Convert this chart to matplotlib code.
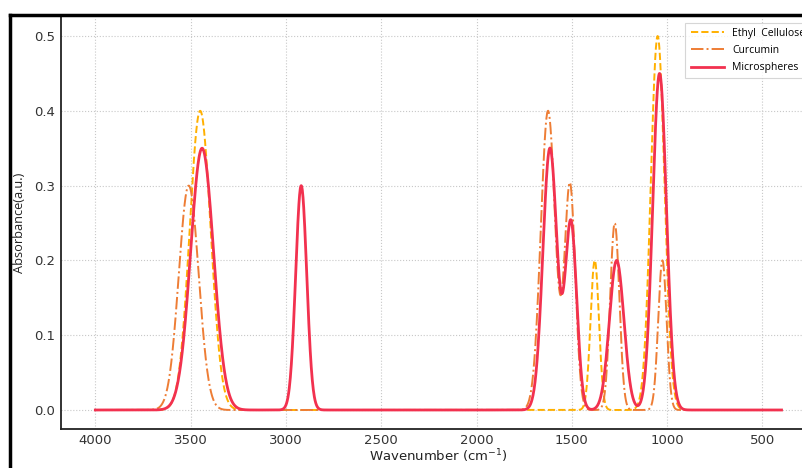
import matplotlib
matplotlib.use("Agg")
import matplotlib.pyplot as plt
from matplotlib.lines import Line2D
import numpy as np

# peak tables (centre cm-1, height, width)
ec_centers = [3450, 1380, 1050]
ec_heights = [0.40, 0.20, 0.50]
ec_widths = [55, 22, 36]

cur_centers = [3510, 1625, 1510, 1275, 1025]
cur_heights = [0.30, 0.40, 0.30, 0.25, 0.20]
cur_widths = [52, 38, 28, 24, 22]

mic_centers = [3440, 2920, 1615, 1505, 1265, 1040]
mic_heights = [0.35, 0.30, 0.35, 0.25, 0.20, 0.45]
mic_widths = [60, 29, 37, 30, 38, 36]

labels = ["Ethyl  Cellulose", "Curcumin", "Microspheres"]
colors = ["#FFB000", "#EE7D35", "#F2314F"]

wn = np.linspace(4000, 400, 2000)


def spectrum(centers, heights, widths):
    y = np.zeros_like(wn)
    for c, h, w in zip(centers, heights, widths):
        y += h * np.exp(-(wn - c) ** 2 / (2 * w ** 2))
    return y


fig = plt.figure(figsize=(8.03, 4.68), dpi=100)
ax = fig.add_axes([0.076, 0.084, 0.94, 0.879])

ax.plot(wn, spectrum(ec_centers, ec_heights, ec_widths), ls="--", lw=1.4,
        color=colors[0], label=labels[0])
ax.plot(wn, spectrum(cur_centers, cur_heights, cur_widths), ls="-.", lw=1.4,
        color=colors[1], label=labels[1])
ax.plot(wn, spectrum(mic_centers, mic_heights, mic_widths), ls="-", lw=2.0,
        color=colors[2], label=labels[2])

ax.set_xlim(4180, 220)
ax.set_ylim(-0.025, 0.525)
ax.set_xticks([4000, 3500, 3000, 2500, 2000, 1500, 1000, 500])
ax.set_yticks([0.0, 0.1, 0.2, 0.3, 0.4, 0.5])
ax.grid(True, ls=":", lw=0.8, color="#c8c8c8")
ax.tick_params(length=0, labelsize=9.5, labelcolor="#333333", pad=4)
for s in ("top", "right"):
    ax.spines[s].set_visible(False)
for s in ("left", "bottom"):
    ax.spines[s].set_linewidth(1.3)
    ax.spines[s].set_color("#222222")

ax.set_xlabel("Wavenumber (cm$^{-1}$)", fontsize=9.5, color="#222222")
ax.xaxis.set_label_coords(0.5, -0.045)
ax.set_ylabel("Absorbance(a.u.)", fontsize=9.2, color="#222222",
              family="Open Sans")
ax.yaxis.set_label_coords(-0.046, 0.5)

leg = ax.legend(loc="upper right", handlelength=3.2,
                fancybox=False, edgecolor="#cccccc", borderpad=0.5,
                labelspacing=0.6, prop={"family": "Open Sans", "size": 7.5})
leg.get_frame().set_linewidth(0.8)

# black frame around the pasted figure (top and left edges visible)
fig.add_artist(Line2D([0.012, 1.0], [0.967, 0.967], color="black", lw=2.5,
                      transform=fig.transFigure))
fig.add_artist(Line2D([0.012, 0.012], [0.0, 0.967], color="black", lw=2.5,
                      transform=fig.transFigure))

fig.savefig("out.png", dpi=100)
